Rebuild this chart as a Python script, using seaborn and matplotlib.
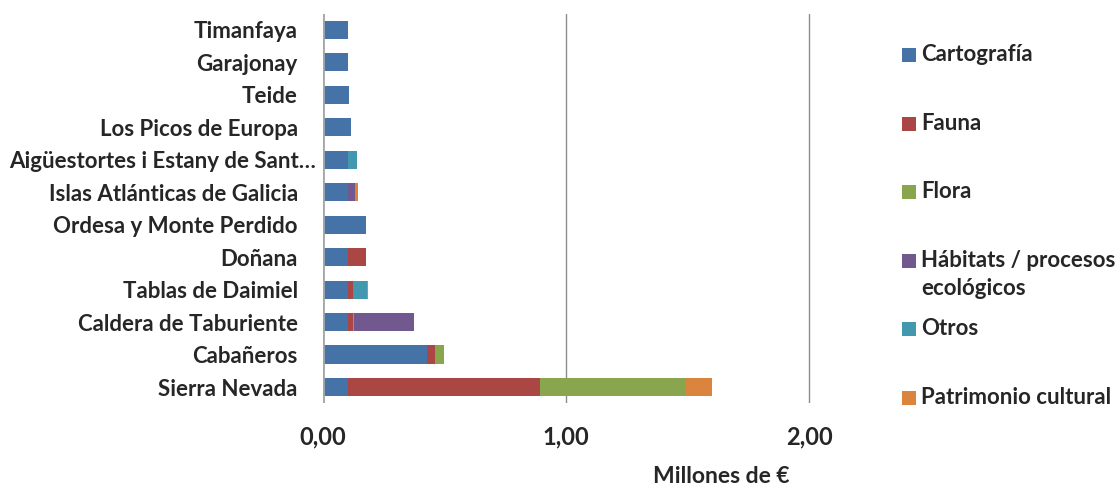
import matplotlib
matplotlib.use("Agg")
import matplotlib.pyplot as plt
from matplotlib.patches import Rectangle
from matplotlib.ticker import FuncFormatter
import matplotlib.transforms as mtransforms
import numpy as np
import pandas as pd
import seaborn as sns

# ---- data (millones de €) ----
parques = ["Timanfaya", "Garajonay", "Teide", "Los Picos de Europa",
           "Aigüestortes i Estany de Sant…", "Islas Atlánticas de Galicia",
           "Ordesa y Monte Perdido", "Doñana", "Tablas de Daimiel",
           "Caldera de Taburiente", "Cabañeros", "Sierra Nevada"]
series = ["Cartografía", "Fauna", "Flora", "Hábitats / procesos\necológicos",
          "Otros", "Patrimonio cultural"]
cartografia = [0.103, 0.103, 0.106, 0.117, 0.103, 0.103, 0.176, 0.103, 0.103, 0.103, 0.430, 0.103]
fauna       = [0.000, 0.000, 0.000, 0.000, 0.000, 0.000, 0.000, 0.073, 0.020, 0.020, 0.031, 0.790]
flora       = [0.000, 0.000, 0.000, 0.000, 0.000, 0.000, 0.000, 0.000, 0.000, 0.005, 0.036, 0.601]
habitats    = [0.000, 0.000, 0.000, 0.000, 0.000, 0.030, 0.000, 0.000, 0.000, 0.247, 0.000, 0.000]
otros       = [0.000, 0.000, 0.003, 0.000, 0.036, 0.000, 0.000, 0.000, 0.059, 0.000, 0.000, 0.000]
patrimonio  = [0.000, 0.000, 0.000, 0.000, 0.000, 0.012, 0.000, 0.000, 0.005, 0.000, 0.000, 0.105]
colors = ["#4572A7", "#AA4643", "#89A54E", "#71588F", "#4198AF", "#DB843D"]

df = pd.DataFrame(dict(zip(series, [cartografia, fauna, flora, habitats, otros, patrimonio])),
                  index=parques)
cum = df.cumsum(axis=1)

sns.set_style("white")
plt.rcParams["font.family"] = ["Lato", "DejaVu Sans"]

fig = plt.figure(figsize=(11.17, 4.87), dpi=100)
ax = fig.add_axes([0.289, 0.172, 0.479, 0.80])

# stacked bars: draw cumulative totals from the top layer down
for col, c in reversed(list(zip(series, colors))):
    sns.barplot(x=cum[col].values, y=parques, orient="h", color=c,
                width=0.56, saturation=1, ax=ax, edgecolor="none")

ax.set_xlim(0, 2.2)
ax.set_ylim(11.5, -0.5)
ax.set_xticks([0, 1, 2])
ax.xaxis.set_major_formatter(FuncFormatter(lambda v, p: f"{v:.2f}".replace(".", ",")))
for x in [1, 2]:
    ax.axvline(x, color="#8c8c8c", lw=1, zorder=0)
ax.axvline(0, color="#a6a6a6", lw=2, zorder=3)
for s in ax.spines.values():
    s.set_visible(False)
ax.tick_params(axis="y", length=0, pad=18, labelsize=16)
ax.tick_params(axis="x", length=0, pad=16, labelsize=17)
for t in ax.get_yticklabels() + ax.get_xticklabels():
    t.set_fontweight("bold")
# the long truncated label sits closer to the axis in the original
long_lbl = ax.get_yticklabels()[4]
long_lbl.set_transform(long_lbl.get_transform() +
                       mtransforms.ScaledTranslation(18 / 100, 0, fig.dpi_scale_trans))
ax.set_xlabel("Millones de €", fontsize=16.5, fontweight="bold")
ax.xaxis.set_label_coords(0.745, -0.16)

# legend on the right, evenly spaced entries like the original
for i, (lab, c) in enumerate(zip(series, colors)):
    yc = 1 - (55 + 68.6 * i) / 487
    fig.add_artist(Rectangle((902 / 1117, yc - 7 / 487), 14 / 1117, 14 / 487,
                             transform=fig.transFigure, facecolor=c, edgecolor="none"))
    fig.text(921 / 1117, yc + 11 / 487, lab, ha="left", va="top", fontsize=16,
             fontweight="bold", linespacing=1.45)

fig.savefig("out.png", dpi=100)
